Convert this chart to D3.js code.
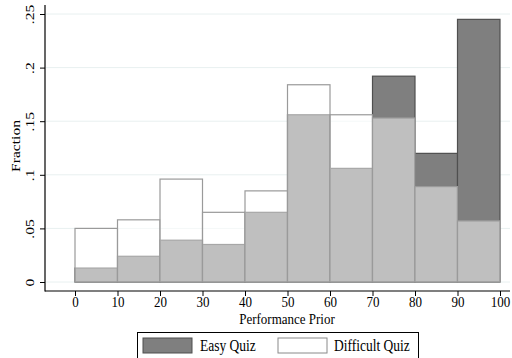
<!DOCTYPE html>
<html>
<head>
<meta charset="utf-8">
<script src="https://cdn.jsdelivr.net/npm/d3@7"></script>
<style>
  body { margin: 0; background: #fff; }
  text { font-family: "Liberation Serif", "Times New Roman", serif; fill: #000; }
</style>
</head>
<body>
<div id="chart"></div>
<script>
// bin edges (Performance Prior) and fraction per bin
const binStarts = [0, 10, 20, 30, 40, 50, 60, 70, 80, 90];
const easyQuiz = [0.013, 0.024, 0.039, 0.035, 0.065, 0.156, 0.106, 0.192, 0.120, 0.245];
const difficultQuiz = [0.050, 0.058, 0.096, 0.065, 0.085, 0.184, 0.156, 0.153, 0.089, 0.057];
const xTicks = [0, 10, 20, 30, 40, 50, 60, 70, 80, 90, 100];
const yTicks = [0, 0.05, 0.1, 0.15, 0.2, 0.25];
const yTickLabels = ['0', '.05', '.1', '.15', '.2', '.25'];

const width = 512;
const height = 358;
const stretch = 1.2; // the original text is a bit taller than wide

const svg = d3.select('#chart').append('svg')
  .attr('width', width)
  .attr('height', height);

const x = d3.scaleLinear().domain([0, 100]).range([75, 500]);
const y = d3.scaleLinear().domain([0, 0.25]).range([282, 14]);

// grid lines
svg.selectAll('.grid')
  .data(yTicks)
  .enter().append('line')
  .attr('class', 'grid')
  .attr('x1', 46)
  .attr('x2', 510)
  .attr('y1', d => y(d))
  .attr('y2', d => y(d))
  .style('stroke', '#e8f0f0')
  .style('stroke-width', 1);

// easy quiz bars underneath
svg.selectAll('.easy')
  .data(binStarts)
  .enter().append('rect')
  .attr('class', 'easy')
  .attr('x', d => x(d))
  .attr('width', d => x(d + 10) - x(d))
  .attr('y', (d, i) => y(easyQuiz[i]))
  .attr('height', (d, i) => y(0) - y(easyQuiz[i]))
  .style('fill', '#7f7f7f')
  .style('stroke', '#4f4f4f')
  .style('stroke-width', 1.2);

// difficult quiz bars: semi-transparent white on top
svg.selectAll('.difficult')
  .data(binStarts)
  .enter().append('rect')
  .attr('class', 'difficult')
  .attr('x', d => x(d))
  .attr('width', d => x(d + 10) - x(d))
  .attr('y', (d, i) => y(difficultQuiz[i]))
  .attr('height', (d, i) => y(0) - y(difficultQuiz[i]))
  .style('fill', '#fff')
  .style('fill-opacity', 0.5)
  .style('stroke', '#9a9a9a')
  .style('stroke-width', 1.2);

// axes
const xAxis = svg.append('g')
  .attr('transform', 'translate(0,291)')
  .call(d3.axisBottom(x).tickValues(xTicks).tickSize(5).tickSizeOuter(0));
xAxis.select('.domain').remove();
xAxis.selectAll('text')
  .style('font-size', '13px')
  .attr('y', 3.3)
  .attr('dy', '0.8em')
  .attr('transform', `scale(1,${stretch})`);

const yAxis = svg.append('g')
  .attr('transform', 'translate(45,0)')
  .call(d3.axisLeft(y).tickValues(yTicks).tickFormat((d, i) => yTickLabels[i]).tickSize(5).tickSizeOuter(0));
yAxis.select('.domain').remove();
yAxis.selectAll('text')
  .style('font-size', '13px')
  .style('text-anchor', 'middle')
  .attr('x', 0)
  .attr('dy', 0)
  .attr('transform', `translate(-11,0) rotate(-90) scale(${stretch},1)`);
svg.selectAll('.tick line').style('stroke', '#000');

svg.append('line')
  .attr('x1', 45).attr('x2', 45).attr('y1', 5).attr('y2', 291.5)
  .style('stroke', '#000').style('stroke-width', 1.2);
svg.append('line')
  .attr('x1', 45).attr('x2', 510).attr('y1', 291).attr('y2', 291)
  .style('stroke', '#000').style('stroke-width', 1.2);

// axis titles
svg.append('text')
  .attr('transform', `translate(287,323.5) scale(1,${stretch})`)
  .style('text-anchor', 'middle')
  .style('font-size', '13px')
  .text('Performance Prior');

svg.append('text')
  .attr('transform', `translate(20,146) rotate(-90) scale(${stretch},1)`)
  .style('text-anchor', 'middle')
  .style('font-size', '13px')
  .text('Fraction');

// legend
const legendItems = [
  { name: 'Easy Quiz', fill: '#7f7f7f', stroke: '#4f4f4f', x: 143, tx: 200 },
  { name: 'Difficult Quiz', fill: '#fff', stroke: '#8a8a8a', x: 278, tx: 334 },
];

svg.append('rect')
  .attr('x', 137.5).attr('y', 332.5)
  .attr('width', 281).attr('height', 40)
  .style('fill', '#fff')
  .style('stroke', '#000')
  .style('stroke-width', 1);

const legend = svg.selectAll('.legend')
  .data(legendItems)
  .enter().append('g')
  .attr('class', 'legend');

legend.append('rect')
  .attr('x', d => d.x)
  .attr('y', 338)
  .attr('width', 49)
  .attr('height', 15)
  .style('fill', d => d.fill)
  .style('stroke', d => d.stroke)
  .style('stroke-width', 1);

legend.append('text')
  .attr('transform', d => `translate(${d.tx},351) scale(1,${stretch})`)
  .style('font-size', '13.5px')
  .text(d => d.name);
</script>
</body>
</html>
